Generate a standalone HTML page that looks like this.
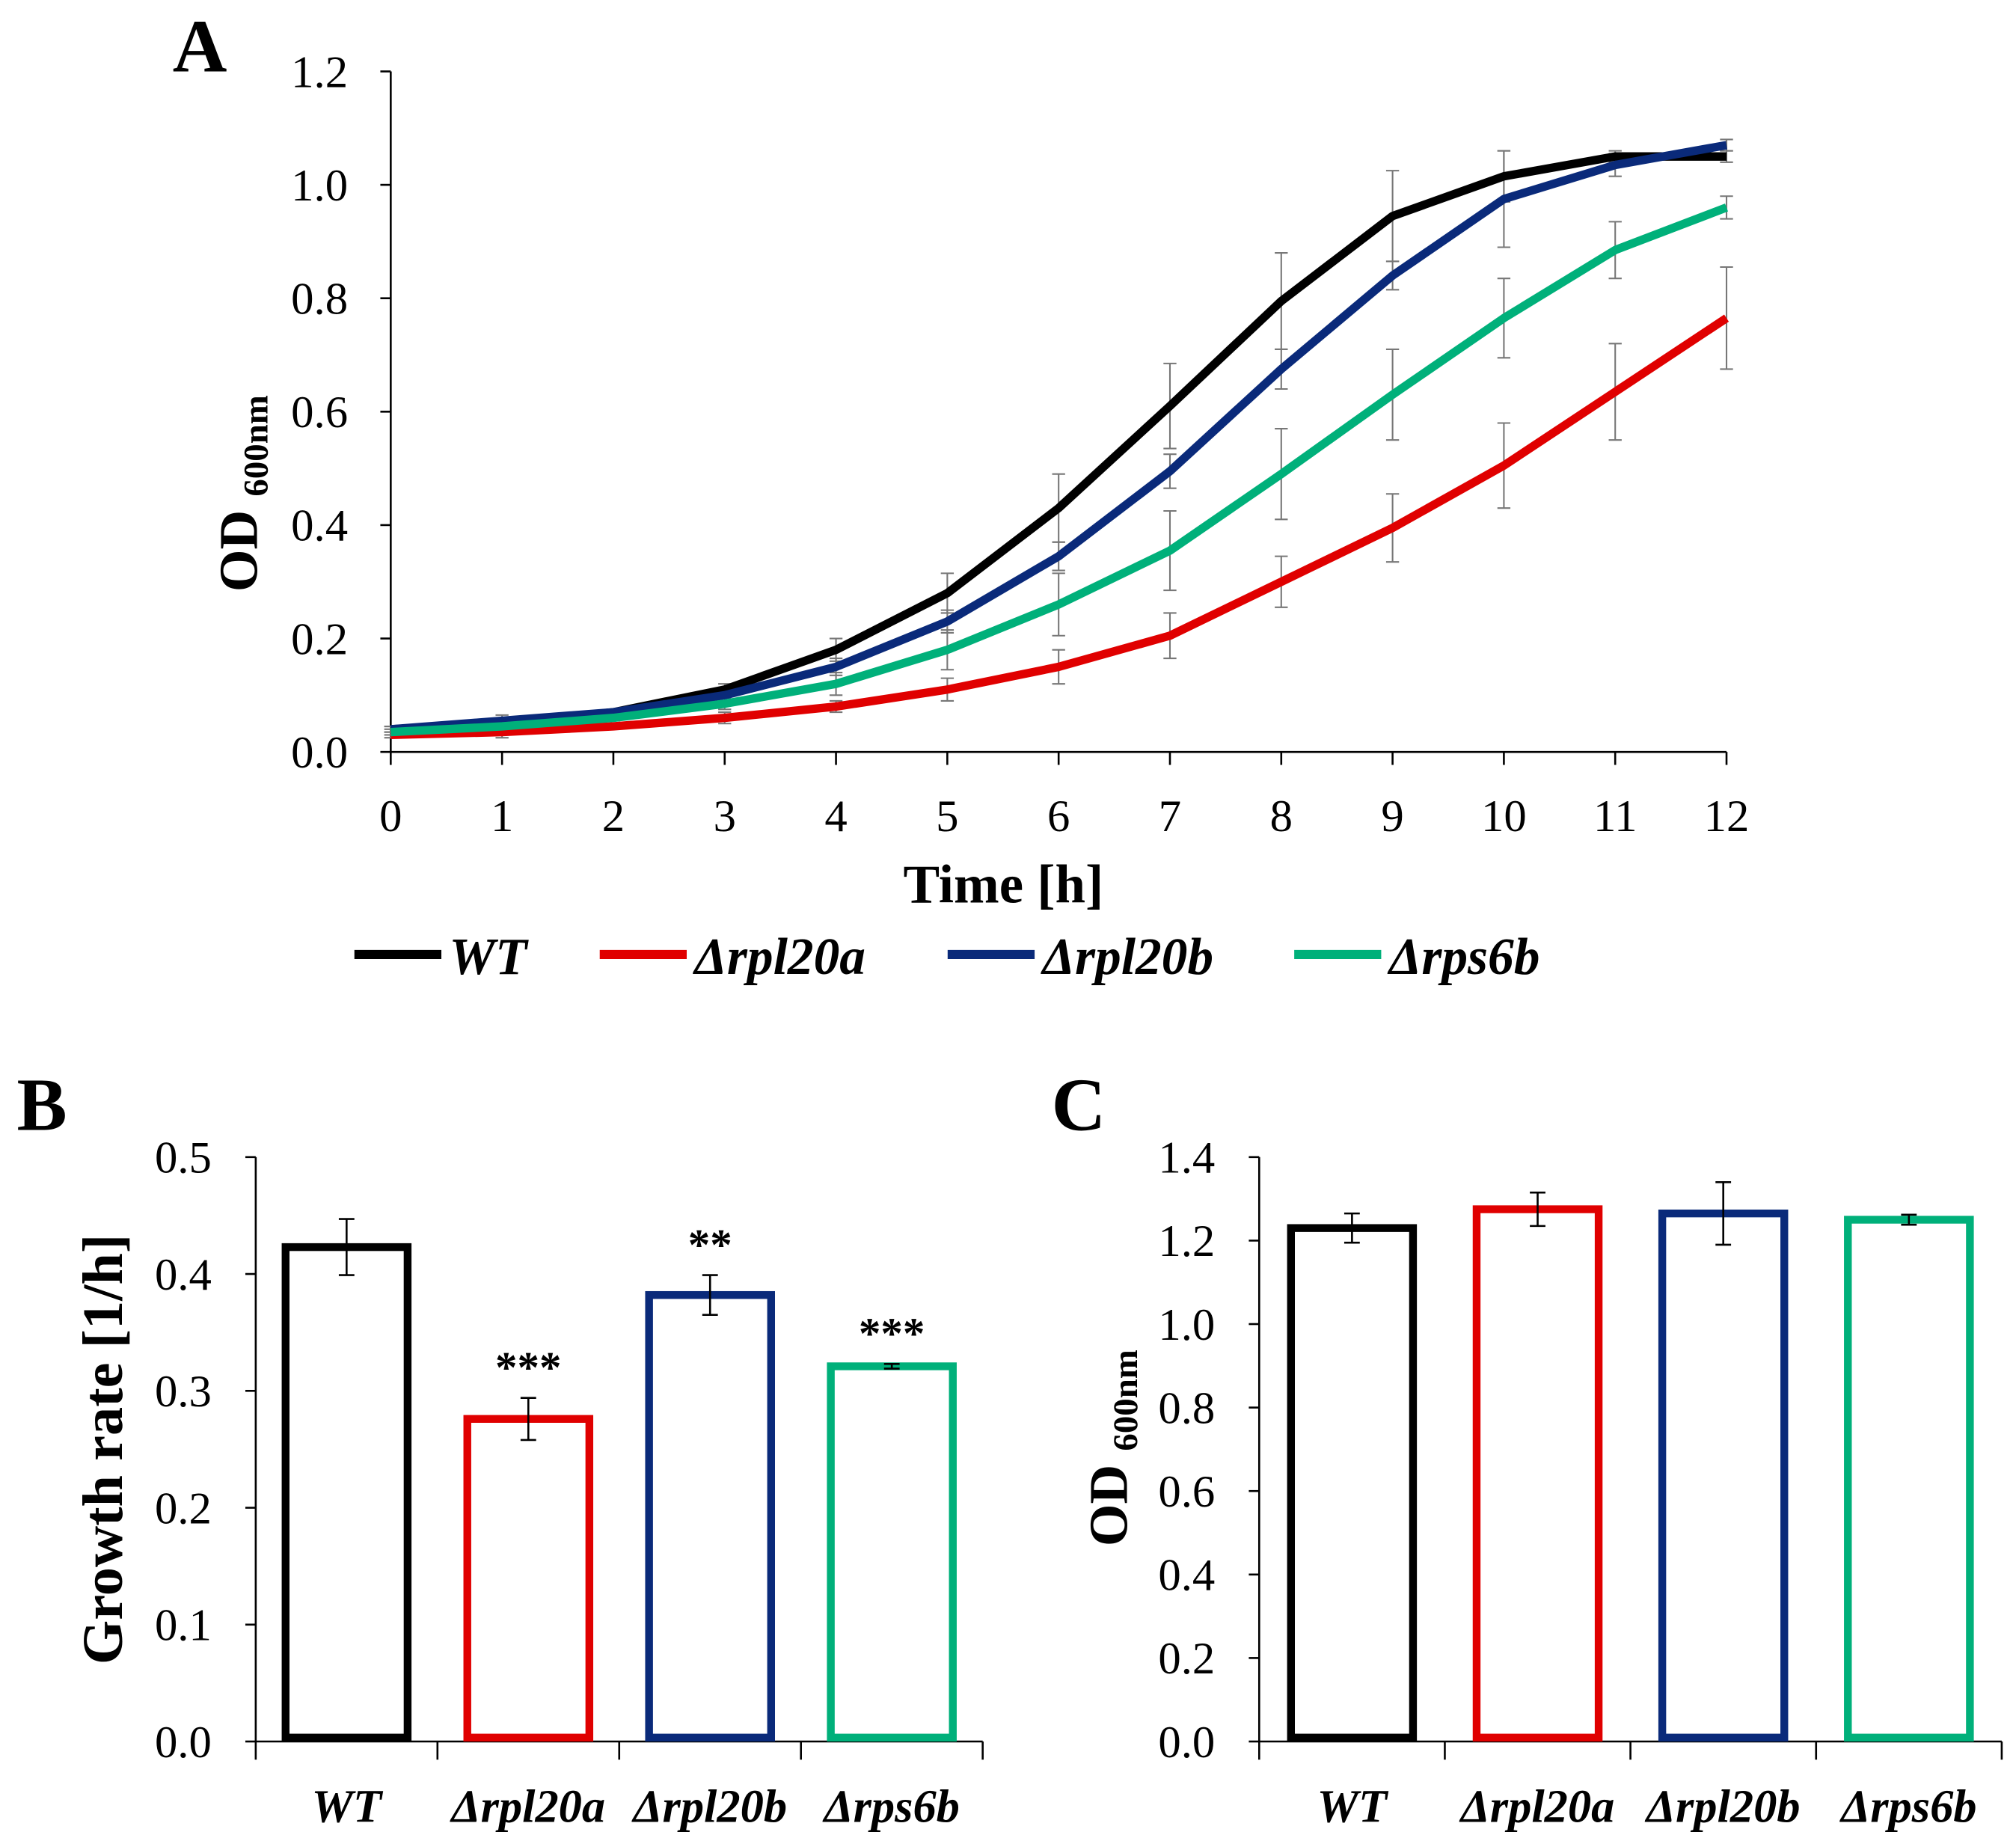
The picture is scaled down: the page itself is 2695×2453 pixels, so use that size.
<!DOCTYPE html>
<html><head><meta charset="utf-8"><style>html,body{margin:0;padding:0;background:#fff}svg{display:block}text{font-family:"Liberation Serif",serif}</style></head>
<body>
<svg id="fig" width="2695" height="2453" viewBox="0 0 1553 1413" preserveAspectRatio="none" xmlns="http://www.w3.org/2000/svg"></svg>
<script>
const hours=[0,1,2,3,4,5,6,7,8,9,10,11,12];
const seriesNames=["WT","Δrpl20a","Δrpl20b","Δrps6b"];
const colors=["#000000","#e00000","#0a2a7a","#00b07a"];
const wtVals=[0.04,0.05,0.07,0.11,0.18,0.28,0.43,0.61,0.795,0.945,1.015,1.05,1.05];
const wtErr=[0.005,0.01,0.005,0.01,0.02,0.035,0.06,0.075,0.085,0.08,0.045,0.01,0.01];
const aVals=[0.03,0.035,0.045,0.06,0.08,0.11,0.15,0.205,0.3,0.395,0.505,0.635,0.765];
const aErr=[0.005,0.01,0.005,0.01,0.01,0.02,0.03,0.04,0.045,0.06,0.075,0.085,0.09];
const bVals=[0.04,0.055,0.07,0.10,0.15,0.23,0.345,0.495,0.675,0.84,0.975,1.035,1.07];
const bErr=[0.005,0.01,0.005,0.01,0.015,0.02,0.025,0.03,0.035,0.025,0.085,0.02,0.01];
const sVals=[0.035,0.045,0.06,0.085,0.12,0.18,0.26,0.355,0.49,0.63,0.765,0.885,0.96];
const sErr=[0.005,0.005,0.005,0.01,0.02,0.035,0.055,0.07,0.08,0.08,0.07,0.05,0.02];
const yTicksA=["0.0","0.2","0.4","0.6","0.8","1.0","1.2"];
const rateVals=[0.423,0.276,0.382,0.321];
const rateErr=[0.024,0.018,0.017,0.002];
const rateStars=["","***","**","***"];
const yTicksB=["0.0","0.1","0.2","0.3","0.4","0.5"];
const odVals=[1.23,1.275,1.265,1.25];
const odErr=[0.035,0.04,0.075,0.012];
const yTicksC=["0.0","0.2","0.4","0.6","0.8","1.0","1.2","1.4"];

const svg=document.getElementById('fig');
const NS="http://www.w3.org/2000/svg";
function mk(tag,attrs,parent){const e=document.createElementNS(NS,tag);for(const k in attrs)e.setAttribute(k,attrs[k]);(parent||svg).appendChild(e);return e;}
function txt(s,attrs,parent){const e=mk('text',attrs,parent);e.textContent=s;return e;}

// ---------- Panel A ----------
const gA=mk('g',{});


const ax=h=>301+(1330-301)*h/12;
const ayA=v=>579-(579-55)*v/1.2;
let l=txt("A",{x:133,y:55,"font-size":58,"font-weight":"bold"},gA);

let axis=mk('path',{d:`M301,55 V579 H1330`,stroke:"#000","stroke-width":1.5,fill:"none"},gA);

yTicksA.forEach((t,i)=>{const v=parseFloat(t);const y=ayA(v);
 mk('line',{x1:293,x2:301,y1:y,y2:y,stroke:"#000","stroke-width":1.5},gA);
 const e=txt(t,{x:268,y:y+12,"font-size":35,"text-anchor":"end"},gA);
 });
hours.forEach(h=>{const x=ax(h);
 mk('line',{x1:x,x2:x,y1:579,y2:589,stroke:"#000","stroke-width":1.5},gA);
 const e=txt(String(h),{x:x,y:640,"font-size":35,"text-anchor":"middle"},gA);
 });
l=txt("Time [h]",{x:773,y:695,"font-size":42,"font-weight":"bold","text-anchor":"middle"},gA);

l=mk('text',{transform:"translate(198,380) rotate(-90)","font-size":42,"font-weight":"bold","text-anchor":"middle"},gA);

l.innerHTML='OD <tspan font-size="27" dy="8">600nm</tspan>';
const allVals=[wtVals,aVals,bVals,sVals], allErr=[wtErr,aErr,bErr,sErr];
allVals.forEach((vals,si)=>{
 vals.forEach((v,i)=>{const x=ax(hours[i]);const e=allErr[si][i];
  const eb=mk('path',{d:`M${x},${ayA(v-e)} V${ayA(v+e)} M${x-5},${ayA(v-e)} h10 M${x-5},${ayA(v+e)} h10`,stroke:"#777","stroke-width":1.2,fill:"none"},gA);
  });
});
allVals.forEach((vals,si)=>{
 const p=mk('polyline',{points:vals.map((v,i)=>ax(hours[i])+","+ayA(v)).join(" "),stroke:colors[si],"stroke-width":6.5,fill:"none","stroke-linejoin":"round"},gA);
 
});
const legX=[273,462,730,997];
seriesNames.forEach((n,i)=>{const g=mk('g',{},gA);
 
 mk('line',{x1:legX[i],x2:legX[i]+67,y1:735,y2:735,stroke:colors[i],"stroke-width":7},g);
 txt(n,{x:legX[i]+73,y:750,"font-size":40,"font-weight":"bold","font-style":"italic"},g);});

// ---------- Bar panels ----------
function barPanel(name,letter,lx,x0,x1,maxV,ticks,vals,errs,stars,title){
 const g=mk('g',{});
 
 const y0=1341,yT=891;const ay=v=>y0-(y0-yT)*v/maxV;
 const L=txt(letter,{x:lx,y:870,"font-size":58,"font-weight":"bold"},g);
 
 mk('path',{d:`M${x0},${yT} V${y0} H${x1}`,stroke:"#000","stroke-width":1.5,fill:"none"},g);
 ticks.forEach(t=>{const y=ay(parseFloat(t));
  mk('line',{x1:x0-8,x2:x0,y1:y,y2:y,stroke:"#000","stroke-width":1.5},g);
  const e=txt(t,{x:x0-34,y:y+12,"font-size":35,"text-anchor":"end"},g);
  });
 const cw=(x1-x0)/vals.length;
 for(let i=0;i<=vals.length;i++){const x=x0+cw*i;mk('line',{x1:x,x2:x,y1:y0,y2:y0+14,stroke:"#000","stroke-width":1.5},g);}
 vals.forEach((v,i)=>{const cx=x0+cw*(i+0.5);const w=94;
  const b=mk('rect',{x:cx-w/2,y:ay(v),width:w,height:y0-ay(v)-3,fill:"#fff",stroke:colors[i],"stroke-width":6},g);
  
  const e=errs[i];
  const eb=mk('path',{d:`M${cx},${ay(v-e)} V${ay(v+e)} M${cx-6},${ay(v-e)} h12 M${cx-6},${ay(v+e)} h12`,stroke:"#000","stroke-width":1.5,fill:"none"},g);
  
  if(stars&&stars[i]){const s=txt(stars[i],{x:cx,y:ay(v+e)-12,"font-size":34,"font-weight":"bold","text-anchor":"middle"},g);
   }
  const c=txt(seriesNames[i],{x:cx,y:1403,"font-size":36,"font-weight":"bold","font-style":"italic","text-anchor":"middle"},g);
  });
 return {g,ay};
}
const B=barPanel('panel-b-growth-rate','B',13,197,757,0.5,yTicksB,rateVals,rateErr,rateStars);
l=txt("Growth rate [1/h]",{transform:"translate(94,1116) rotate(-90)","font-size":44,"font-weight":"bold","text-anchor":"middle"},B.g);

const C=barPanel('panel-c-final-od','C',810,970,1542,1.4,yTicksC,odVals,odErr,null);
l=mk('text',{transform:"translate(868,1115) rotate(-90)","font-size":42,"font-weight":"bold","text-anchor":"middle"},C.g);

l.innerHTML='OD <tspan font-size="27" dy="8">600nm</tspan>';
</script>
</body></html>
